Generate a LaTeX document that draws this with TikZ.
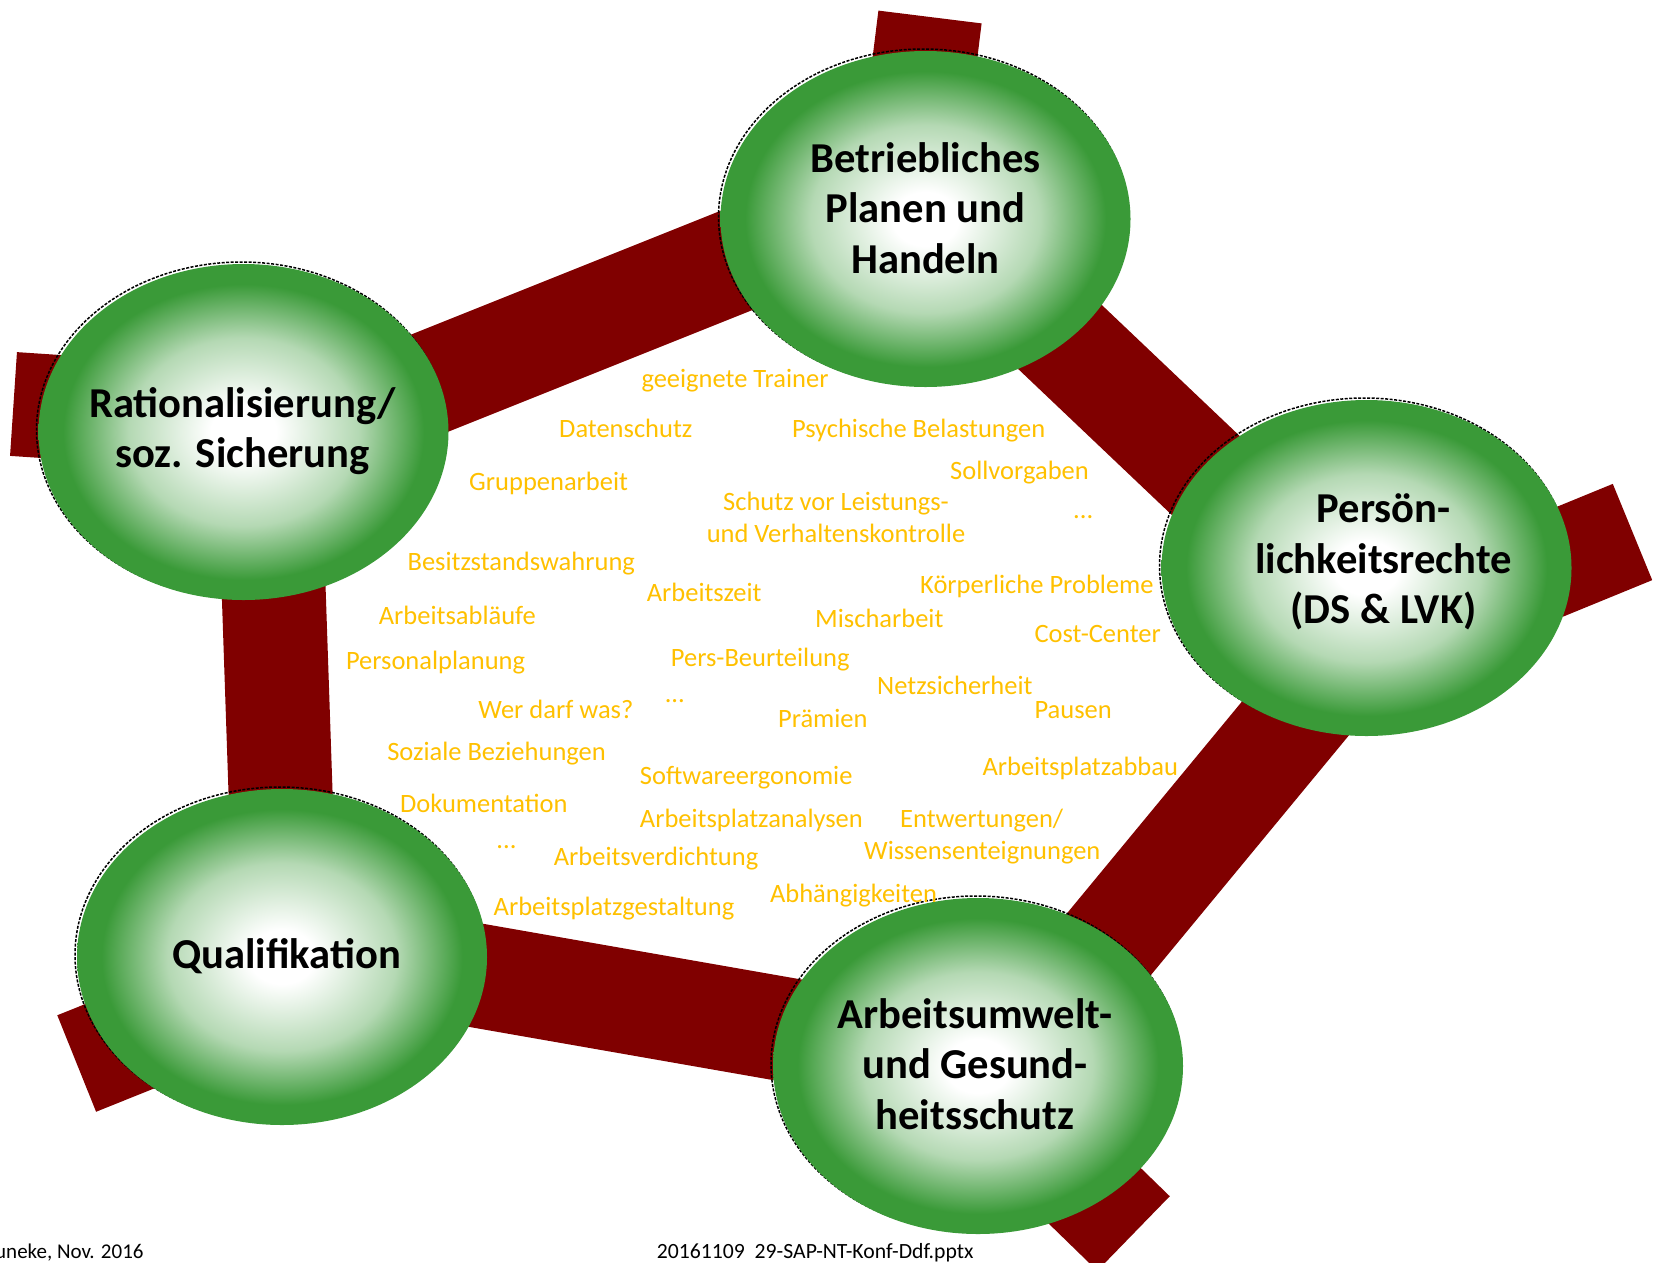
\documentclass[tikz,border=0pt]{standalone}
\usepackage{fontspec}
\setmainfont{Carlito}
\usetikzlibrary{shapes.geometric,calc,backgrounds}
\definecolor{gr}{RGB}{58,154,56}
\definecolor{barred}{RGB}{128,0,0}
\definecolor{kwcol}{RGB}{255,192,0}
\pgfdeclareradialshading{ballshade}{\pgfpoint{0bp}{0bp}}{color(0bp)=(white); color(4bp)=(white); color(14bp)=(white!62!gr); color(22bp)=(gr); color(25bp)=(gr); color(50bp)=(gr)}
\begin{document}
\begin{tikzpicture}[x=1pt,y=-1pt,
  ball/.style={ellipse, minimum width=410pt, minimum height=336pt, inner sep=0pt, shading=ballshade},
  lbl/.style={font=\fontsize{42.6}{50.6}\selectfont\bfseries, align=center, inner sep=0pt},
  kwd/.style={anchor=base west, inner sep=0pt, text=kwcol, font=\fontsize{26.5}{31.8}\selectfont},
  foot/.style={anchor=base west, inner sep=0pt, text=black},
  barline/.style={draw=barred, line width=104pt, line cap=butt},
  rim/.style={draw=black, line width=1.5pt, dash pattern=on 3pt off 1.5pt}]
\useasboundingbox (0,0) rectangle (1653,1262);

% ellipses
\node[ball] (betr) at (925.5,219) {};
\node[ball] (rat)  at (243.5,432) {};
\node[ball] (pers) at (1366.5,568) {};
\node[ball] (qual) at (282,957) {};
\node[ball] (arb)  at (978,1066) {};

% stub ends
\coordinate (s1) at (930,17);
\coordinate (s2) at (13.5,404);
\coordinate (s3) at (1632.5,532);
\coordinate (s4) at (76.7,1063.5);
\coordinate (s5) at (1133.5,1233.5);

\begin{scope}[on background layer]
  % pentagon bars
  \draw[barline] ($(rat)+(86.5,-9)$) -- ($(betr)+(-75.5,-4)$);
  \draw[barline] ($(betr)+(34.5,23)$) -- ($(pers)+(-56.5,6.5)$);
  \draw[barline] ($(pers)+(18.5,42)$) -- ($(arb)+(43.5,-16)$);
  \draw[barline] ($(qual)+(78,-2)$) -- ($(arb)+(-78,-16.5)$);
  \draw[barline] ($(rat)+(26.4,48)$) -- ($(qual)+(2.2,-57)$);
  % stubs
  \draw[barline] ($(betr)+(-14,-53)$) -- (s1);
  \draw[barline] ($(rat)+(-80,-18)$) -- (s2);
  \draw[barline] ($(pers)+(80.5,40)$) -- (s3);
  \draw[barline] ($(qual)+(-20,32)$) -- (s4);
  \draw[barline] ($(arb)+(12,28)$) -- (s5);
  % rims
  \draw[rim] ($(betr)+(-2,-2)$) ellipse [x radius=205pt, y radius=168pt];
  \draw[rim] ($(rat)+(-2,-2)$) ellipse [x radius=205pt, y radius=168pt];
  \draw[rim] ($(pers)+(-2,-2)$) ellipse [x radius=205pt, y radius=168pt];
  \draw[rim] ($(qual)+(-2,-2)$) ellipse [x radius=205pt, y radius=168pt];
  \draw[rim] ($(arb)+(-2,-2)$) ellipse [x radius=205pt, y radius=168pt];
\end{scope}

% labels
\node[lbl] (lbetr) at ($(betr)+(0,-11)$) {Betriebliches\\Planen und\\Handeln};
\node[lbl] (lrat)  at ($(rat)+(-1,-1)$) {Rationalisierung/\\soz. Sicherung};
\node[lbl] (lpers) at ($(pers)+(17,-6)$) {Persön-\\lichkeitsrechte\\(DS \& LVK)};
\node[lbl] (lqual) at ($(qual)+(4.7,-1)$) {Qualifikation};
\node[lbl] (larb)  at ($(arb)+(-3,-2)$) {Arbeitsumwelt-\\und Gesund-\\heitsschutz};

% keywords
\node[kwd] (k1)  at (641.3,387.3) {geeignete Trainer};
\node[kwd] (k2)  at (559,437.3) {Datenschutz};
\node[kwd] (k3)  at (791.8,437.3) {Psychische Belastungen};
\node[kwd] (k4)  at (950,479) {Sollvorgaben};
\node[kwd] (k5)  at (469,490) {Gruppenarbeit};
\node[kwd, anchor=base, align=center] (k6) at (836,542.7) {Schutz vor Leistungs-\\und Verhaltenskontrolle};
\node[kwd] (k7)  at (1073,518.7) {...};
\node[kwd] (k8)  at (407.4,570.7) {Besitzstandswahrung};
\node[kwd] (k9)  at (920,593.3) {Körperliche Probleme};
\node[kwd] (k10) at (646.6,601.7) {Arbeitszeit};
\node[kwd] (k11) at (378.7,624.3) {Arbeitsabläufe};
\node[kwd] (k12) at (815,627.7) {Mischarbeit};
\node[kwd] (k13) at (1034.3,642.3) {Cost-Center};
\node[kwd] (k14) at (345.8,669) {Personalplanung};
\node[kwd] (k15) at (670.7,666.7) {Pers-Beurteilung};
\node[kwd] (k16) at (877,694.3) {Netzsicherheit};
\node[kwd] (k17) at (664.6,702.3) {...};
\node[kwd] (k18) at (478.2,718.3) {Wer darf was?};
\node[kwd] (k19) at (777.9,727.7) {Prämien};
\node[kwd] (k20) at (1034.3,718.3) {Pausen};
\node[kwd] (k21) at (387.1,760.7) {Soziale Beziehungen};
\node[kwd] (k22) at (982.3,775) {Arbeitsplatzabbau};
\node[kwd] (k23) at (639.7,784.3) {Softwareergonomie};
\node[kwd] (k24) at (399.8,812.7) {Dokumentation};
\node[kwd] (k25) at (639.7,827.3) {Arbeitsplatzanalysen};
\node[kwd] (k26) at (900,827.3) {Entwertungen/};
\node[kwd] (k27) at (864,859.3) {Wissensenteignungen};
\node[kwd] (k28) at (496.2,848.3) {...};
\node[kwd] (k29) at (553.6,865.7) {Arbeitsverdichtung};
\node[kwd] (k30) at (769.8,902.3) {Abhängigkeiten};
\node[kwd] (k31) at (493.5,915) {Arbeitsplatzgestaltung};

% footer
\node[foot, font=\fontsize{21}{25}\selectfont] (f1) at (-5,1258) {uneke, Nov. 2016};
\node[foot, font=\fontsize{21.7}{26}\selectfont] (f2) at (656.7,1258) {20161109\ \ 29-SAP-NT-Konf-Ddf.pptx};
\end{tikzpicture}
\end{document}
